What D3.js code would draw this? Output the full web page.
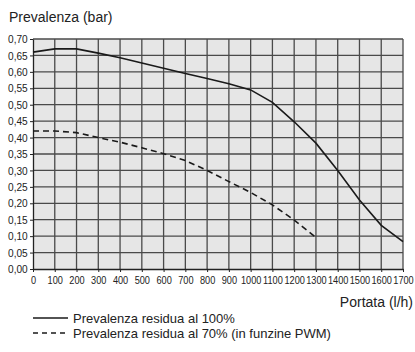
<!DOCTYPE html>
<html>
<head>
<meta charset="utf-8">
<script src="https://cdn.jsdelivr.net/npm/d3@7"></script>
<style>
  body { margin: 0; background: #fff; }
  text { font-family: "Liberation Sans", Arial, sans-serif; fill: #222; }
</style>
</head>
<body>
<div id="chart"></div>
<script>
// portata (l/h) and prevalenza (bar)
var portata100 = [0, 100, 200, 300, 400, 500, 600, 700, 800, 900, 1000, 1100, 1200, 1300, 1400, 1500, 1600, 1700];
var prev100 = [0.66, 0.67, 0.67, 0.657, 0.643, 0.627, 0.611, 0.595, 0.58, 0.564, 0.545, 0.507, 0.448, 0.383, 0.30, 0.21, 0.133, 0.083];
var portata70 = [0, 100, 200, 300, 400, 500, 600, 700, 800, 900, 1000, 1100, 1200, 1300];
var prev70 = [0.42, 0.42, 0.415, 0.40, 0.386, 0.369, 0.351, 0.33, 0.30, 0.266, 0.233, 0.195, 0.149, 0.096];
var xTicks = [0, 100, 200, 300, 400, 500, 600, 700, 800, 900, 1000, 1100, 1200, 1300, 1400, 1500, 1600, 1700];
var yTicks = [0, 0.05, 0.10, 0.15, 0.20, 0.25, 0.30, 0.35, 0.40, 0.45, 0.50, 0.55, 0.60, 0.65, 0.70];
var legendLabels = ["Prevalenza residua al 100%", "Prevalenza residua al 70% (in funzine PWM)"];

var width = 415, height = 352;
var plotLeft = 33, plotRight = 403, plotTop = 39, plotBottom = 269;

var svg = d3.select("#chart").append("svg")
    .attr("width", width)
    .attr("height", height);

var x = d3.scaleLinear().domain([0, 1700]).range([plotLeft, plotRight]);
var y = d3.scaleLinear().domain([0, 0.70]).range([plotBottom, plotTop]);
var fmt = function(d) { return d3.format(".2f")(d).replace(".", ","); };

// plot background
svg.append("rect")
    .attr("x", plotLeft).attr("y", plotTop)
    .attr("width", plotRight - plotLeft).attr("height", plotBottom - plotTop)
    .style("fill", "#e6e6e6");

// grid
svg.append("g").selectAll("line")
    .data(xTicks.slice(1))
    .enter().append("line")
    .attr("x1", function(d){ return x(d); })
    .attr("x2", function(d){ return x(d); })
    .attr("y1", plotTop).attr("y2", plotBottom)
    .style("stroke", "#4a4a4a").style("stroke-width", 1.3);

svg.append("g").selectAll("line")
    .data(yTicks.slice(1))
    .enter().append("line")
    .attr("x1", plotLeft).attr("x2", plotRight)
    .attr("y1", function(d){ return y(d); })
    .attr("y2", function(d){ return y(d); })
    .style("stroke", "#4a4a4a").style("stroke-width", 1.3);

// axes
var xAxis = svg.append("g")
    .attr("transform", "translate(0," + plotBottom + ")")
    .call(d3.axisBottom(x).tickValues(xTicks).tickFormat(d3.format("d")).tickSize(3).tickSizeOuter(0).tickPadding(4));
var yAxis = svg.append("g")
    .attr("transform", "translate(" + plotLeft + ",0)")
    .call(d3.axisLeft(y).tickValues(yTicks).tickFormat(fmt).tickSize(3).tickSizeOuter(0).tickPadding(3));

[xAxis, yAxis].forEach(function(a) {
    a.select(".domain").style("stroke", "#222").style("stroke-width", 1.3);
    a.selectAll(".tick line").style("stroke", "#222");
    a.selectAll(".tick text").style("font-size", "11.5px").style("fill", "#222");
});
// condensed look of the tick labels
xAxis.selectAll(".tick text").attr("transform", "scale(0.8,1)");
yAxis.selectAll(".tick text").attr("transform", "scale(0.88,1)");

// curves
var line = d3.line()
    .x(function(d){ return x(d[0]); })
    .y(function(d){ return y(d[1]); });

svg.append("path")
    .datum(d3.zip(portata100, prev100))
    .attr("d", line)
    .style("fill", "none")
    .style("stroke", "#1a1a1a")
    .style("stroke-width", 1.6);

svg.append("path")
    .datum(d3.zip(portata70, prev70))
    .attr("d", line)
    .style("fill", "none")
    .style("stroke", "#1a1a1a")
    .style("stroke-width", 1.6)
    .style("stroke-dasharray", "6,4");

// titles
svg.append("text")
    .attr("x", 9).attr("y", 22)
    .style("font-size", "14px")
    .text("Prevalenza (bar)");

svg.append("text")
    .attr("x", 413).attr("y", 307)
    .attr("text-anchor", "end")
    .style("font-size", "14px")
    .text("Portata (l/h)");

// legend
var legend = svg.append("g");
legendLabels.forEach(function(lbl, i) {
    var ly = 318 + i * 15;
    legend.append("line")
        .attr("x1", 33).attr("x2", 68)
        .attr("y1", ly).attr("y2", ly)
        .style("stroke", "#1a1a1a")
        .style("stroke-width", 1.4)
        .style("stroke-dasharray", i == 1 ? "5,4" : null);
    legend.append("text")
        .attr("x", 73).attr("y", ly + 5)
        .style("font-size", "13px")
        .text(lbl);
});
</script>
</body>
</html>
